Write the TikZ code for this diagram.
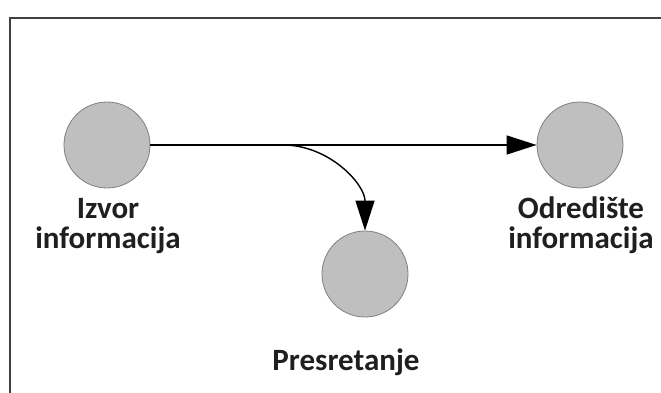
\documentclass[tikz,border=0pt]{standalone}
\usepackage{fontspec}
\setmainfont{Carlito}
\usetikzlibrary{arrows.meta}
\begin{document}
\begin{tikzpicture}[x=1pt,y=-1pt,
  party/.style={circle,draw=black!50,fill=black!25,line width=0.8pt,minimum size=86pt,inner sep=0pt},
  caption/.style={align=center,font=\fontsize{31}{30}\selectfont\bfseries,text=black!88,inner sep=0pt},
  flow/.style={line width=1.4pt,-{Triangle[length=30pt,width=19pt]}}]
  \useasboundingbox (0,0) rectangle (661,393);
  % open frame: left and top edges only
  \draw[line width=1.6pt,black!75] (10,400) -- (10,18) -- (670,18);
  % the three parties
  \node[party] (src) at (107,145) {};
  \node[party] (dst) at (580,145) {};
  \node[party] (mid) at (365,274) {};
  % labels (base anchor sits on the last line)
  \node[caption,anchor=base] (srclbl) at (108,248) {Izvor\\informacija};
  \node[caption,anchor=base] (dstlbl) at (581,248) {Odredište\\informacija};
  \node[caption,anchor=base] (midlbl) at (346,370) {Presretanje};
  % message flow and its interception
  \coordinate (tap) at (283,145);
  \draw[flow] (src) -- (dst);
  \draw[flow] (tap) to[out=0,in=90] (mid.north);
\end{tikzpicture}
\end{document}
